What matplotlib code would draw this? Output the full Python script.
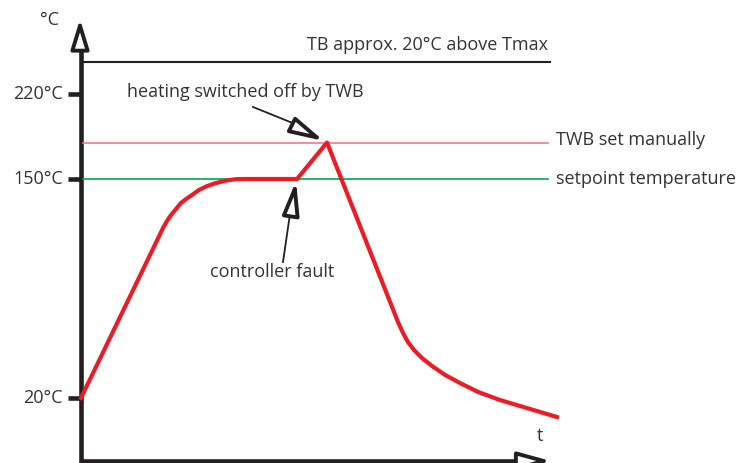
import numpy as np
import matplotlib
matplotlib.use('Agg')
import matplotlib.pyplot as plt

plt.rcParams['font.family'] = ['Open Sans', 'DejaVu Sans']

# temperature profile (t in arbitrary units, temp in degC)
t_vals = [0, 82, 86, 90, 95, 100, 105, 111, 118, 126, 135, 145, 155, 164,
          216, 246,
          317, 322, 327, 333, 341, 351, 364, 379, 397, 419, 449, 476]
temp_vals = [20, 120.9, 125.1, 128.6, 132.2, 135.8, 138.1, 140.5, 143.5, 145.8, 147.6, 149.1, 149.9, 150,
             150, 180,
             65.1, 58.6, 53.2, 48.5, 43.7, 39.0, 33.7, 28.9, 23.6, 18.8, 13.5, 8.7]

tick_temps = [20, 150, 220]
tick_labels = ['20°C', '150°C', '220°C']
setpoint = 150
twb = 180
tb = 246

# schematic (non-linear) temperature axis
T_nodes = np.array([-40, 20, 150, 220, 320])
P_nodes = np.array([-36.1, 65, 284, 369, 490.4])

def fwd(v):
    return np.interp(v, T_nodes, P_nodes)

def inv(p):
    return np.interp(p, P_nodes, T_nodes)

fig = plt.figure(figsize=(7.39, 4.63), dpi=100)
ax = fig.add_axes([0, 0, 1, 1])
ax.set_yscale('function', functions=(fwd, inv))
ax.set_xlim(-81, 658)
ax.set_ylim(inv(0), inv(463))
ax.axis('off')

txt = '#333333'
dark = '#231f20'
fs = 13

def open_arrow(tip, base, hl, hw):
    ax.annotate('', xy=tip, xytext=base,
                arrowprops=dict(arrowstyle=f'-|>,head_length={hl},head_width={hw}',
                                fc='white', ec=dark, lw=2.8, shrinkA=0, shrinkB=0),
                zorder=6)

# y axis with open arrow head
ax.plot([0, 0], [inv(-5), inv(418)], color=dark, lw=3.3, solid_capstyle='butt')
open_arrow((-1, inv(444)), (-1, inv(418)), 1.8, 0.55)
ax.text(-22, inv(443), '°C', ha='right', va='center', fontsize=fs, color=txt)

# x axis
ax.plot([0, 442], [inv(2), inv(2)], color=dark, lw=3.3, solid_capstyle='butt')
open_arrow((470, inv(2)), (441, inv(2)), 2.0, 0.55)
ax.text(459, inv(27), 't', ha='center', va='center', fontsize=fs, color=txt)

# ticks
for temp, lab in zip(tick_temps, tick_labels):
    ax.plot([-13, 0], [temp, temp], color=dark, lw=3.3, solid_capstyle='butt')
    ax.text(-18, temp, lab, ha='right', va='center', fontsize=fs, color=txt)

# reference lines
ax.plot([2, 469], [tb, tb], color=dark, lw=1.5)
ax.text(467, inv(463 - 45), 'TB approx. 20°C above Tmax', ha='right', va='center',
        fontsize=fs, color=txt)
ax.plot([2, 467], [twb, twb], color='#ee7b80', lw=1.2)
ax.text(475, twb + 2, 'TWB set manually', ha='left', va='center', fontsize=fs, color=txt)
ax.plot([2, 467], [setpoint, setpoint], color='#00a651', lw=1.2)
ax.text(475, setpoint, 'setpoint temperature', ha='left', va='center', fontsize=fs, color=txt)

# temperature curve
ax.plot(t_vals, temp_vals, color='#ed1c24', lw=3.0, solid_joinstyle='round', zorder=5)

# annotation: heating switched off
ax.text(164, inv(463 - 92), 'heating switched off by TWB', ha='center', va='center',
        fontsize=fs, color=txt)
ax.plot([172, 219], [inv(463 - 107), inv(463 - 126)], color=dark, lw=1.3)
open_arrow((243, inv(463 - 141)), (217, inv(463 - 128)), 2.0, 0.5)

# annotation: controller fault
ax.text(191, inv(463 - 272), 'controller fault', ha='center', va='center',
        fontsize=fs, color=txt)
ax.plot([202, 210], [inv(463 - 262), inv(463 - 207)], color=dark, lw=1.3)
open_arrow((215, inv(463 - 181)), (211, inv(463 - 208)), 2.0, 0.5)

fig.savefig('out.png', dpi=100, facecolor='white')
